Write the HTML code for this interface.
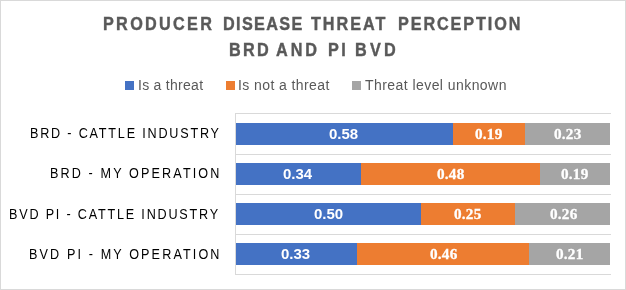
<!DOCTYPE html>
<html><head><meta charset="utf-8">
<style>
html,body{margin:0;padding:0;background:#fff;}
body{width:626px;height:290px;position:relative;overflow:hidden;font-family:"Liberation Sans",sans-serif;}
.frame{position:absolute;left:0;top:0;width:626px;height:290px;box-sizing:border-box;border:1px solid #d9d9d9;}
.txt{position:absolute;left:0;top:0;width:626px;height:290px;will-change:transform;}
.t{position:absolute;white-space:nowrap;line-height:1;}
.ti{font-weight:bold;font-size:18px;color:#595959;transform:scaleX(0.9);transform-origin:0 0;-webkit-text-stroke:0.4px #595959;}
.leg{font-size:14px;color:#595959;}
.sq{position:absolute;width:9px;height:9px;top:81px;}
.cat{font-size:14px;color:#000;transform:scaleX(0.9);transform-origin:0 0;}
.gl{position:absolute;left:236px;width:375px;height:1px;background:#d9d9d9;}
.ax{position:absolute;left:235px;top:113px;width:1px;height:162px;background:#d9d9d9;}
.bar{position:absolute;height:22px;}
.b{background:#4472c4;}
.o{background:#ed7d31;}
.g{background:#a5a5a5;}
.dl{color:#fff;font-weight:bold;font-size:15px;}
.sans{font-family:"Liberation Sans",sans-serif;}
.serif{font-family:"Liberation Serif",serif;font-size:13.8px;letter-spacing:0.2px;transform:scaleX(1.1);transform-origin:0 0;-webkit-text-stroke:0.3px #fff;}
</style></head>
<body>
<div class="frame"></div>

<div class="sq b" style="left:125px;"></div>
<div class="sq o" style="left:226px;"></div>
<div class="sq g" style="left:352px;"></div>

<div class="gl" style="top:113px;"></div>
<div class="gl" style="top:154px;"></div>
<div class="gl" style="top:194px;"></div>
<div class="gl" style="top:234px;"></div>
<div class="gl" style="top:274px;"></div>
<div class="ax"></div>

<!-- row 1 -->
<div class="bar b" style="left:236px;width:217px;top:123px;"></div>
<div class="bar o" style="left:453px;width:72px;top:123px;"></div>
<div class="bar g" style="left:525px;width:85px;top:123px;"></div>
<!-- row 2 -->
<div class="bar b" style="left:236px;width:125px;top:163px;"></div>
<div class="bar o" style="left:361px;width:179px;top:163px;"></div>
<div class="bar g" style="left:540px;width:70px;top:163px;"></div>
<!-- row 3 -->
<div class="bar b" style="left:236px;width:185px;top:203px;"></div>
<div class="bar o" style="left:421px;width:94px;top:203px;"></div>
<div class="bar g" style="left:515px;width:95px;top:203px;"></div>
<!-- row 4 -->
<div class="bar b" style="left:236px;width:121px;top:243px;"></div>
<div class="bar o" style="left:357px;width:172px;top:243px;"></div>
<div class="bar g" style="left:529px;width:81px;top:243px;"></div>

<div class="txt">
<div class="t ti" style="left:103px;top:15px;letter-spacing:2.57px;">PRODUCER</div>
<div class="t ti" style="left:223px;top:15px;letter-spacing:1.5px;">DISEASE</div>
<div class="t ti" style="left:311px;top:15px;letter-spacing:2.18px;">THREAT</div>
<div class="t ti" style="left:398px;top:15px;letter-spacing:2.1px;">PERCEPTION</div>
<div class="t ti" style="left:229px;top:41px;letter-spacing:2.5px;">BRD</div>
<div class="t ti" style="left:276px;top:41px;letter-spacing:3.3px;">AND</div>
<div class="t ti" style="left:328px;top:41px;letter-spacing:2.6px;">PI</div>
<div class="t ti" style="left:355px;top:41px;letter-spacing:3.55px;">BVD</div>

<div class="t leg" style="left:138px;top:78px;letter-spacing:0.28px;">Is a threat</div>
<div class="t leg" style="left:238px;top:78px;letter-spacing:0.41px;">Is not a threat</div>
<div class="t leg" style="left:365px;top:78px;letter-spacing:0.44px;">Threat level unknown</div>

<div class="t cat" style="left:30px;top:126px;letter-spacing:2.01px;">BRD - CATTLE INDUSTRY</div>
<div class="t cat" style="left:50px;top:166px;letter-spacing:2.36px;">BRD - MY OPERATION</div>
<div class="t cat" style="left:9px;top:207px;letter-spacing:2.01px;">BVD PI - CATTLE INDUSTRY</div>
<div class="t cat" style="left:29px;top:247px;letter-spacing:2.36px;">BVD PI - MY OPERATION</div>

<div class="t dl sans" style="left:329px;top:126px;">0.58</div>
<div class="t dl serif" style="left:475px;top:128px;">0.19</div>
<div class="t dl serif" style="left:554px;top:128px;">0.23</div>

<div class="t dl sans" style="left:283px;top:166px;">0.34</div>
<div class="t dl serif" style="left:437px;top:168px;">0.48</div>
<div class="t dl serif" style="left:561px;top:168px;">0.19</div>

<div class="t dl sans" style="left:314px;top:206px;">0.50</div>
<div class="t dl serif" style="left:454px;top:208px;">0.25</div>
<div class="t dl serif" style="left:550px;top:208px;">0.26</div>

<div class="t dl sans" style="left:281px;top:246px;">0.33</div>
<div class="t dl serif" style="left:430px;top:248px;">0.46</div>
<div class="t dl serif" style="left:556px;top:248px;">0.21</div>
</div>
</body></html>
